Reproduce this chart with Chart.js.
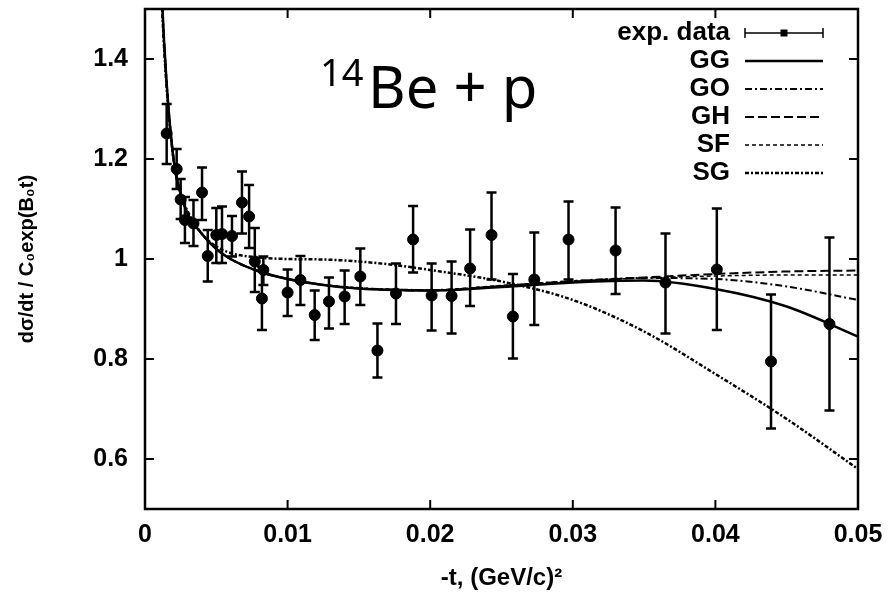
<!DOCTYPE html>
<html>
<head>
<meta charset="utf-8">
<script src="https://cdn.jsdelivr.net/npm/chart.js@4.4.1/dist/chart.umd.min.js"></script>
<style>
  html, body { margin: 0; padding: 0; background: #fff; }
  #wrap { width: 890px; height: 599px; }
</style>
</head>
<body>
<div id="wrap"><canvas id="myChart"></canvas></div>
<script>
// DATA
var tData = [0.00152, 0.00222, 0.0025, 0.0028, 0.0034, 0.0040, 0.0044, 0.0050, 0.0054, 0.0061,
  0.0068, 0.0073, 0.0077, 0.0082, 0.0083, 0.0100, 0.0109, 0.0119, 0.0129, 0.0140,
  0.0151, 0.0163, 0.0176, 0.0188, 0.0201, 0.0215, 0.0228, 0.0243, 0.0258, 0.0273,
  0.0297, 0.0330, 0.0365, 0.0401, 0.0439, 0.0480]
var yData = [1.251, 1.180, 1.119, 1.078, 1.071, 1.133, 1.006, 1.048, 1.050, 1.046,
  1.113, 1.085, 0.995, 0.921, 0.978, 0.933, 0.958, 0.888, 0.915, 0.925,
  0.965, 0.817, 0.931, 1.039, 0.927, 0.926, 0.981, 1.048, 0.885, 0.959,
  1.039, 1.017, 0.953, 0.979, 0.795, 0.870]
var yLow = [1.19, 1.14, 1.08, 1.032, 1.026, 1.078, 0.955, 0.992, 0.992, 1.005,
  1.051, 1.022, 0.934, 0.858, 0.948, 0.886, 0.908, 0.838, 0.861, 0.870,
  0.908, 0.763, 0.870, 0.973, 0.857, 0.851, 0.906, 0.959, 0.801, 0.868,
  0.959, 0.930, 0.851, 0.858, 0.661, 0.697]
var yHigh = [1.31, 1.22, 1.16, 1.124, 1.118, 1.183, 1.058, 1.102, 1.105, 1.086,
  1.175, 1.148, 1.062, 0.985, 1.005, 0.979, 1.006, 0.937, 0.963, 0.977,
  1.021, 0.871, 0.991, 1.106, 0.991, 0.995, 1.059, 1.133, 0.970, 1.053,
  1.115, 1.103, 1.051, 1.101, 0.929, 1.043]

// model curves
var tCurve = [0.001, 0.0012, 0.0015, 0.002, 0.0025, 0.003, 0.004, 0.005, 0.006, 0.008,
  0.01, 0.0125, 0.015, 0.0175, 0.02, 0.025, 0.03, 0.035, 0.04, 0.045, 0.05]
var ggCurve = [1.72, 1.52, 1.36, 1.20, 1.13, 1.09, 1.05, 1.02, 1.00, 0.975,
  0.960, 0.948, 0.941, 0.938, 0.937, 0.944, 0.953, 0.957, 0.940, 0.905, 0.845]
var goCurve = [1.72, 1.52, 1.36, 1.20, 1.13, 1.09, 1.05, 1.02, 1.00, 0.975,
  0.960, 0.948, 0.942, 0.939, 0.938, 0.946, 0.956, 0.962, 0.960, 0.945, 0.918]
var ghCurve = [1.72, 1.52, 1.36, 1.20, 1.13, 1.09, 1.05, 1.02, 1.00, 0.975,
  0.960, 0.948, 0.941, 0.938, 0.937, 0.946, 0.955, 0.963, 0.970, 0.975, 0.977]
var sfCurve = [1.72, 1.52, 1.36, 1.20, 1.13, 1.09, 1.05, 1.02, 1.00, 0.976,
  0.961, 0.949, 0.942, 0.939, 0.938, 0.947, 0.956, 0.962, 0.966, 0.968, 0.968]
var sgCurve = [1.65, 1.50, 1.35, 1.20, 1.13, 1.095, 1.05, 1.025, 1.012, 1.003,
  1.000, 0.999, 0.995, 0.988, 0.978, 0.955, 0.918, 0.855, 0.770, 0.680, 0.580]

var xTickVals = [0, 0.01, 0.02, 0.03, 0.04, 0.05]
var xTickLabels = ['0', '0.01', '0.02', '0.03', '0.04', '0.05']
var yTickVals = [0.6, 0.8, 1.0, 1.2, 1.4]
var yTickLabels = ['0.6', '0.8', '1', '1.2', '1.4']

var legendNames = ['exp. data', 'GG', 'GO', 'GH', 'SF', 'SG']

function pts(xs, ys) {
  return xs.map(function (x, i) { return { x: x, y: ys[i] } })
}

var boldFont = '"Liberation Sans", Arial, sans-serif'

// line styles for the models
var styles = {
  GG: { dash: [], width: 2.5 },
  GO: { dash: [7, 3, 2, 3], width: 2 },
  GH: { dash: [9, 4], width: 2 },
  SF: { dash: [4, 3], width: 1.5 },
  SG: { dash: [4, 2, 2, 2], width: 2.5 }
}

function curve(label, data) {
  return {
    type: 'line',
    label: label,
    data: pts(tCurve, data),
    borderColor: '#000',
    borderWidth: styles[label].width,
    borderDash: styles[label].dash,
    pointRadius: 0,
    fill: false,
    cubicInterpolationMode: 'monotone'
  }
}

// ERROR BARS
var errorBars = {
  id: 'errorBars',
  beforeDatasetsDraw: function (chart) {
    var ctx = chart.ctx
    var xs = chart.scales.x
    var ys = chart.scales.y
    ctx.save()
    ctx.strokeStyle = '#000'
    ctx.lineWidth = 2.5
    for (var i = 0; i < tData.length; i++) {
      var px = xs.getPixelForValue(tData[i])
      var lo = ys.getPixelForValue(yLow[i])
      var hi = ys.getPixelForValue(yHigh[i])
      ctx.beginPath()
      ctx.moveTo(px, lo); ctx.lineTo(px, hi)
      ctx.moveTo(px - 5, lo); ctx.lineTo(px + 5, lo)
      ctx.moveTo(px - 5, hi); ctx.lineTo(px + 5, hi)
      ctx.stroke()
    }
    ctx.restore()
  }
}

// FRAME, INWARD TICKS, LEGEND AND LABEL
var frame = {
  id: 'frame',
  afterDraw: function (chart) {
    var ctx = chart.ctx
    var a = chart.chartArea
    var xs = chart.scales.x
    var ys = chart.scales.y
    ctx.save()
    ctx.strokeStyle = '#000'
    ctx.lineWidth = 2.5
    ctx.strokeRect(a.left, a.top, a.right - a.left, a.bottom - a.top)
    ctx.lineWidth = 2
    ctx.beginPath()
    xTickVals.forEach(function (v) {
      var p = xs.getPixelForValue(v)
      ctx.moveTo(p, a.bottom); ctx.lineTo(p, a.bottom - 9)
      ctx.moveTo(p, a.top); ctx.lineTo(p, a.top + 9)
    })
    yTickVals.forEach(function (v) {
      var p = ys.getPixelForValue(v)
      ctx.moveTo(a.left, p); ctx.lineTo(a.left + 9, p)
      ctx.moveTo(a.right, p); ctx.lineTo(a.right - 9, p)
    })
    ctx.stroke()

    // legend
    var textRight = 730, s0 = 745, s1 = 823
    ctx.font = 'bold 26px ' + boldFont
    ctx.fillStyle = '#000'
    ctx.textAlign = 'right'
    ctx.textBaseline = 'middle'
    legendNames.forEach(function (name, i) {
      var y = 33 + i * 28
      ctx.fillText(name, textRight, y)
      ctx.beginPath()
      if (i === 0) {
        ctx.setLineDash([])
        ctx.lineWidth = 1.5
        ctx.moveTo(s0, y); ctx.lineTo(s1, y)
        ctx.moveTo(s0, y - 5); ctx.lineTo(s0, y + 5)
        ctx.moveTo(s1, y - 5); ctx.lineTo(s1, y + 5)
        ctx.stroke()
        ctx.fillRect((s0 + s1) / 2 - 3.5, y - 3.5, 7, 7)
      } else {
        ctx.setLineDash(styles[name].dash)
        ctx.lineWidth = styles[name].width
        ctx.moveTo(s0, y); ctx.lineTo(s1, y)
        ctx.stroke()
      }
    })
    ctx.setLineDash([])

    // 14Be + p
    ctx.textAlign = 'left'
    ctx.textBaseline = 'alphabetic'
    ctx.font = '38px "Noto Sans", sans-serif'
    ctx.fillText('14', 320, 86)
    ctx.font = '58px "Noto Sans", sans-serif'
    ctx.fillText('Be + p', 368, 108)
    ctx.restore()
  }
}

var ctx = document.getElementById('myChart').getContext('2d')

var myChart = new Chart(ctx, {
  type: 'scatter',
  data: {
    datasets: [{
      label: 'exp. data',
      data: pts(tData, yData),
      backgroundColor: '#000',
      borderColor: '#000',
      pointRadius: 5.5,
      pointHoverRadius: 5.5
    },
    curve('GG', ggCurve),
    curve('GO', goCurve),
    curve('GH', ghCurve),
    curve('SF', sfCurve),
    curve('SG', sgCurve)
    ]
  },
  options: {
    responsive: true,
    maintainAspectRatio: false,
    animation: false,
    layout: { padding: { left: 0, right: 32, top: 9, bottom: 0 } },
    plugins: {
      legend: { display: false },
      tooltip: { enabled: false }
    },
    scales: {
      x: {
        type: 'linear',
        min: 0,
        max: 0.05,
        afterBuildTicks: function (scale) {
          scale.ticks = xTickVals.map(function (v) { return { value: v } })
        },
        afterFit: function (scale) {
          scale.height = 90
          scale.paddingLeft = 0
          scale.paddingRight = 0
        },
        grid: { display: false, drawTicks: false },
        border: { display: false },
        ticks: {
          padding: 11,
          color: '#000',
          font: { family: boldFont, size: 25, weight: 'bold' },
          maxRotation: 0,
          callback: function (v) { return xTickLabels[xTickVals.indexOf(v)] }
        },
        title: {
          display: true,
          text: '-t, (GeV/c)²',
          color: '#000',
          font: { family: boldFont, size: 24, weight: 'bold' },
          padding: { top: 0, bottom: 6 }
        }
      },
      y: {
        type: 'linear',
        min: 0.5,
        max: 1.5,
        afterBuildTicks: function (scale) {
          scale.ticks = yTickVals.map(function (v) { return { value: v } })
        },
        afterFit: function (scale) {
          scale.width = 145
          scale.paddingTop = 0
          scale.paddingBottom = 0
        },
        grid: { display: false, drawTicks: false },
        border: { display: false },
        ticks: {
          padding: 17,
          color: '#000',
          font: { family: boldFont, size: 25, weight: 'bold' },
          callback: function (v) { return yTickLabels[yTickVals.indexOf(v)] }
        },
        title: {
          display: true,
          text: 'dσ/dt / C₀exp(B₀t)',
          color: '#000',
          font: { family: boldFont, size: 20, weight: 'bold' },
          padding: { top: 15, bottom: 0 }
        }
      }
    }
  },
  plugins: [errorBars, frame]
})
</script>
</body>
</html>
